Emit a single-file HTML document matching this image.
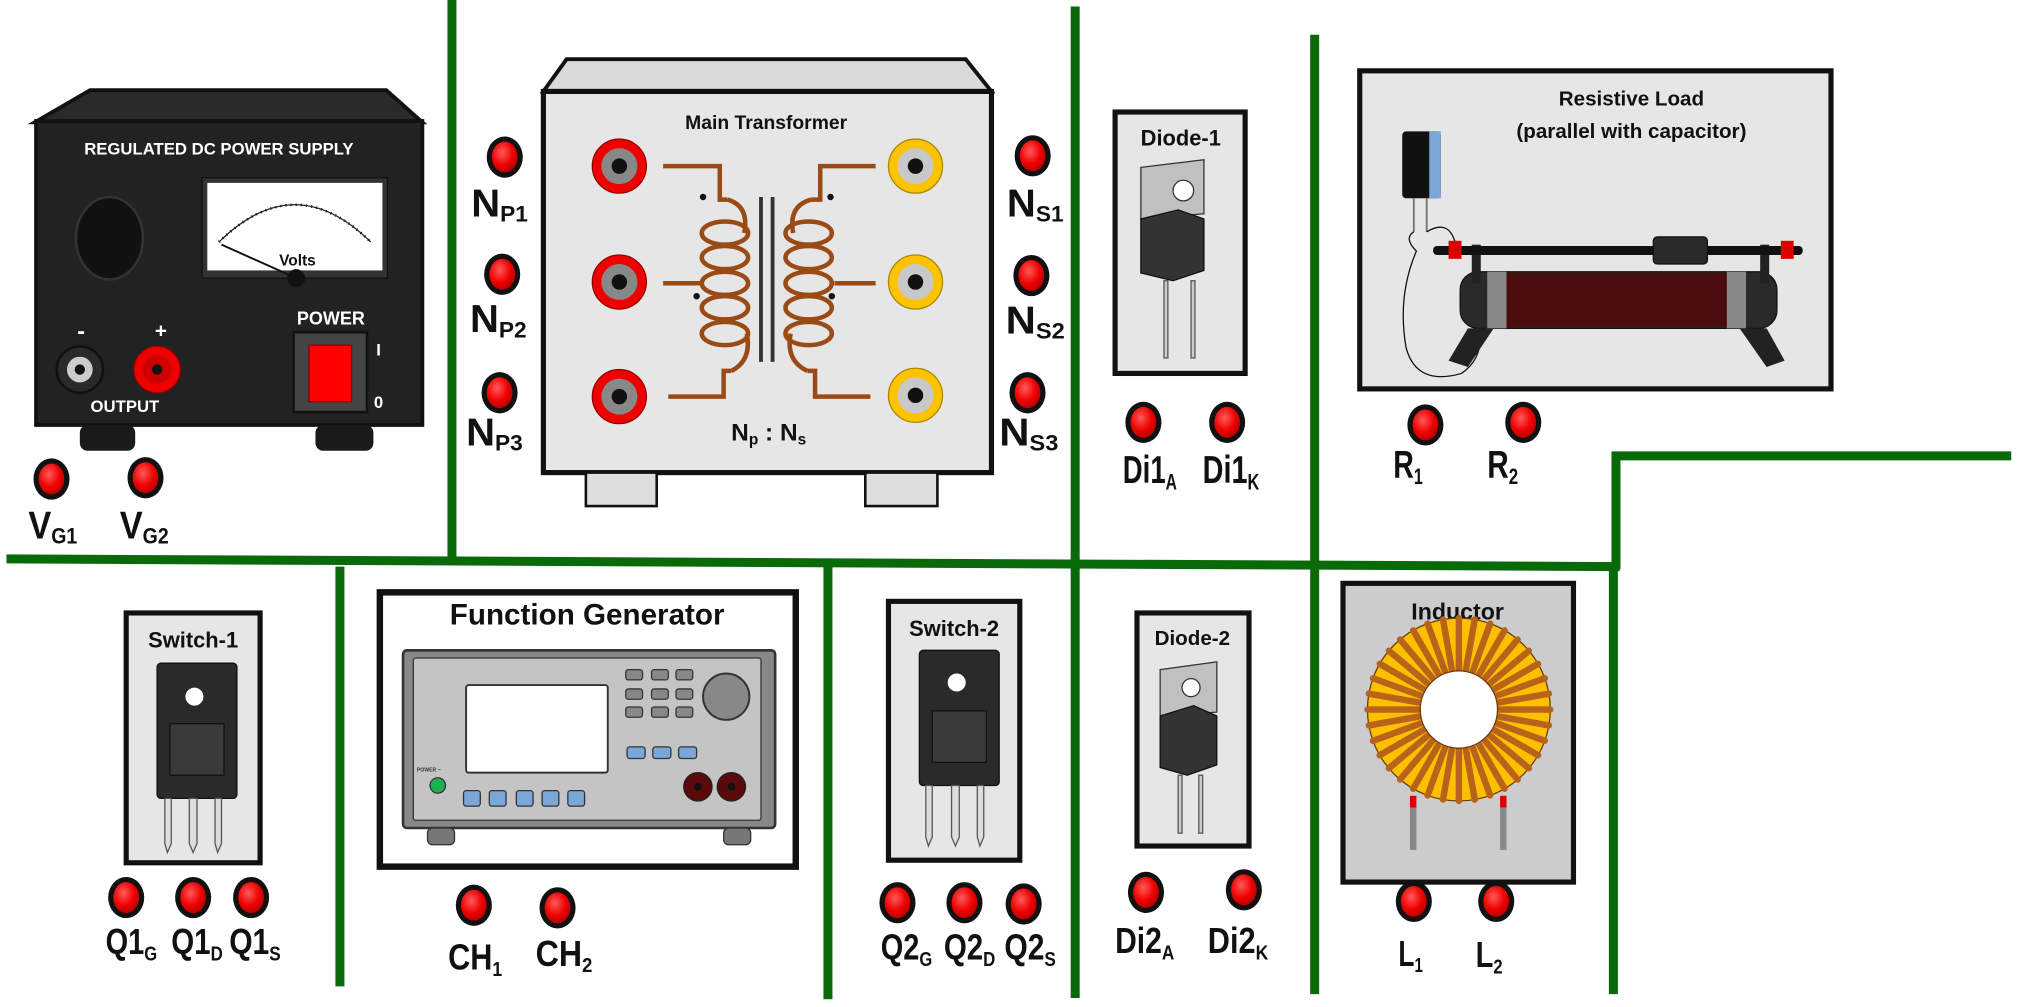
<!DOCTYPE html>
<html><head><meta charset="utf-8"><style>
html,body{margin:0;padding:0;background:#fff;width:2019px;height:1007px;overflow:hidden}
svg{display:block}
text{font-family:"Liberation Sans Narrow","Liberation Sans",sans-serif;font-weight:bold}
</style></head><body>
<svg width="2019" height="1007" viewBox="0 0 1568 782" preserveAspectRatio="none" xmlns="http://www.w3.org/2000/svg">
<defs>
<radialGradient id="rd" cx="0.4" cy="0.35" r="0.7"><stop offset="0" stop-color="#ff5a5a"/><stop offset="0.6" stop-color="#ee0000"/><stop offset="1" stop-color="#b00000"/></radialGradient>
<g id="dot"><ellipse cx="0" cy="0" rx="14" ry="16" fill="#111"/><ellipse cx="0" cy="0" rx="10" ry="12" fill="url(#rd)"/></g>
<g id="rterm"><circle r="21" fill="#e00" stroke="#900" stroke-width="1"/><circle r="14" fill="#888"/><circle r="6" fill="#111"/></g>
<g id="yterm"><circle r="21" fill="#fdc300" stroke="#a80" stroke-width="1"/><circle r="14" fill="#c8c8c8"/><circle r="6" fill="#111"/></g>
</defs>

<g stroke="#0a6a0a" stroke-width="7" fill="none">
<line x1="351" y1="0" x2="351" y2="434"/>
<line x1="835" y1="5" x2="835" y2="775"/>
<line x1="1021" y1="27" x2="1021" y2="772"/>
<line x1="5" y1="434" x2="1258" y2="440"/>
<polyline points="1255,442 1255,354 1562,354"/>
<line x1="264" y1="440" x2="264" y2="766"/>
<line x1="643" y1="438" x2="643" y2="776"/>
<line x1="1253" y1="440" x2="1253" y2="772"/>
</g>

<!-- DC power supply -->
<polygon points="70,70 300,70 328,95 27,95" fill="#2a2a2a" stroke="#111" stroke-width="3"/>
<rect x="28" y="94" width="300" height="236" fill="#222" stroke="#111" stroke-width="3"/>
<rect x="62" y="330" width="43" height="20" rx="6" fill="#1a1a1a"/>
<rect x="245" y="330" width="45" height="20" rx="6" fill="#1a1a1a"/>
<text x="170" y="120" font-size="13" fill="#fff" text-anchor="middle">REGULATED DC POWER SUPPLY</text>
<ellipse cx="85" cy="185" rx="26" ry="32" fill="#111" stroke="#333" stroke-width="2"/>
<rect x="157" y="138" width="144" height="78" fill="#333" stroke="#111"/>
<rect x="161" y="142" width="136" height="68" fill="#fff"/>
<path d="M170 188 Q229 130 288 188" fill="none" stroke="#222" stroke-width="2" stroke-dasharray="1 3"/>
<path d="M170 188 Q229 130 288 188" fill="none" stroke="#222" stroke-width="1"/>
<line x1="172" y1="190" x2="228" y2="215" stroke="#111" stroke-width="1.5"/>
<circle cx="230" cy="216" r="7" fill="#111"/>
<text x="231" y="206" font-size="12" fill="#111" text-anchor="middle" font-weight="normal">Volts</text>
<text x="63" y="263" font-size="18" fill="#fff" text-anchor="middle">-</text>
<text x="125" y="262" font-size="16" fill="#fff" text-anchor="middle">+</text>
<circle cx="62" cy="287" r="18" fill="#2a2a2a" stroke="#111" stroke-width="2"/><circle cx="62" cy="287" r="10" fill="#ccc"/><circle cx="62" cy="287" r="4" fill="#111"/>
<circle cx="122" cy="287" r="18" fill="#e00" stroke="#900"/><circle cx="122" cy="287" r="11" fill="#c00"/><circle cx="122" cy="287" r="4" fill="#111"/>
<text x="97" y="320" font-size="13" fill="#fff" text-anchor="middle">OUTPUT</text>
<text x="257" y="252" font-size="14" fill="#fff" text-anchor="middle">POWER</text>
<rect x="228" y="258" width="57" height="62" fill="#444" stroke="#111" stroke-width="2"/>
<rect x="240" y="268" width="33" height="44" fill="#f00" stroke="#800"/>
<text x="294" y="276" font-size="13" fill="#fff" text-anchor="middle">I</text>
<text x="294" y="317" font-size="13" fill="#fff" text-anchor="middle">0</text>
<use href="#dot" x="40" y="372"/><use href="#dot" x="113" y="371"/>
<text x="22" y="418" font-size="30" fill="#111" textLength="38" lengthAdjust="spacingAndGlyphs">V<tspan font-size="17" dy="4">G1</tspan></text>
<text x="93" y="418" font-size="30" fill="#111" textLength="38" lengthAdjust="spacingAndGlyphs">V<tspan font-size="17" dy="4">G2</tspan></text>

<!-- Transformer -->
<polygon points="440,46 750,46 770,71 422,71" fill="#d9d9d9" stroke="#111" stroke-width="3"/>
<rect x="422" y="71" width="348" height="296" fill="#e6e6e6" stroke="#111" stroke-width="4"/>
<rect x="455" y="367" width="55" height="26" fill="#ddd" stroke="#111" stroke-width="2"/>
<rect x="672" y="367" width="56" height="26" fill="#ddd" stroke="#111" stroke-width="2"/>
<text x="595" y="100" font-size="15" fill="#111" text-anchor="middle">Main Transformer</text>
<use href="#rterm" x="481" y="129"/><use href="#rterm" x="481" y="219"/><use href="#rterm" x="481" y="308"/>
<use href="#yterm" x="711" y="129"/><use href="#yterm" x="711" y="219"/><use href="#yterm" x="711" y="307"/>
<g fill="none" stroke="#9a4a14" stroke-width="3.5">
<polyline points="515,129 559,129 559,155 565,155"/>
<path d="M565 155 Q582 160 578 181"/>
<polyline points="515,220 545,220"/>
<polyline points="519,308 562,308 562,288 568,288"/>
<path d="M568 288 Q584 280 580 259"/>
<ellipse cx="563" cy="181" rx="18" ry="9"/><ellipse cx="563" cy="200" rx="18" ry="9"/><ellipse cx="563" cy="220" rx="18" ry="9"/><ellipse cx="563" cy="239" rx="18" ry="9"/><ellipse cx="563" cy="259" rx="18" ry="9"/>
<polyline points="680,129 637,129 637,155 630,155"/>
<path d="M630 155 Q612 160 616 181"/>
<polyline points="648,220 680,220"/>
<polyline points="676,308 633,308 633,288 627,288"/>
<path d="M627 288 Q610 280 614 259"/>
<ellipse cx="628" cy="181" rx="18" ry="9"/><ellipse cx="628" cy="200" rx="18" ry="9"/><ellipse cx="628" cy="220" rx="18" ry="9"/><ellipse cx="628" cy="239" rx="18" ry="9"/><ellipse cx="628" cy="259" rx="18" ry="9"/>
</g>
<line x1="591" y1="153" x2="591" y2="281" stroke="#333" stroke-width="3"/>
<line x1="600" y1="153" x2="600" y2="281" stroke="#333" stroke-width="3"/>
<circle cx="546" cy="153" r="2.5" fill="#111"/><circle cx="645" cy="153" r="2.5" fill="#111"/>
<circle cx="541" cy="230" r="2.5" fill="#111"/><circle cx="646" cy="230" r="2.5" fill="#111"/>
<text x="597" y="342" font-size="19" fill="#111" text-anchor="middle">N<tspan font-size="12" dy="3">p</tspan><tspan dy="-3"> : N</tspan><tspan font-size="12" dy="3">s</tspan></text>
<use href="#dot" x="392" y="122"/><use href="#dot" x="390" y="213"/><use href="#dot" x="388" y="305"/>
<text x="366" y="168" font-size="30" fill="#111" textLength="44" lengthAdjust="spacingAndGlyphs">N<tspan font-size="17" dy="4">P1</tspan></text>
<text x="365" y="258" font-size="30" fill="#111" textLength="44" lengthAdjust="spacingAndGlyphs">N<tspan font-size="17" dy="4">P2</tspan></text>
<text x="362" y="346" font-size="30" fill="#111" textLength="44" lengthAdjust="spacingAndGlyphs">N<tspan font-size="17" dy="4">P3</tspan></text>
<use href="#dot" x="802" y="121"/><use href="#dot" x="801" y="214"/><use href="#dot" x="798" y="305"/>
<text x="782" y="168" font-size="30" fill="#111" textLength="44" lengthAdjust="spacingAndGlyphs">N<tspan font-size="17" dy="4">S1</tspan></text>
<text x="781" y="259" font-size="30" fill="#111" textLength="46" lengthAdjust="spacingAndGlyphs">N<tspan font-size="17" dy="4">S2</tspan></text>
<text x="776" y="346" font-size="30" fill="#111" textLength="46" lengthAdjust="spacingAndGlyphs">N<tspan font-size="17" dy="4">S3</tspan></text>

<!-- Diode-1 -->
<rect x="866" y="87" width="101" height="203" fill="#e6e6e6" stroke="#111" stroke-width="4"/>
<text x="917" y="113" font-size="17" fill="#111" text-anchor="middle">Diode-1</text>
<polygon points="886,130 935,124 935,166 886,170" fill="#c0c0c0" stroke="#333"/>
<circle cx="919" cy="148" r="8" fill="#fff" stroke="#333"/>
<polygon points="886,170 915,163 935,170 935,210 911,218 886,212" fill="#333" stroke="#111"/>
<rect x="904" y="218" width="3" height="60" fill="#ccc" stroke="#555"/>
<rect x="925" y="218" width="3" height="60" fill="#ccc" stroke="#555"/>
<use href="#dot" x="888" y="328"/><use href="#dot" x="953" y="328"/>
<text x="872" y="375" font-size="30" fill="#111" textLength="42" lengthAdjust="spacingAndGlyphs">Di1<tspan font-size="17" dy="5">A</tspan></text>
<text x="934" y="375" font-size="30" fill="#111" textLength="44" lengthAdjust="spacingAndGlyphs">Di1<tspan font-size="17" dy="5">K</tspan></text>

<!-- Resistive Load -->
<rect x="1056" y="55" width="366" height="247" fill="#e6e6e6" stroke="#111" stroke-width="4"/>
<text x="1267" y="82" font-size="16" fill="#111" text-anchor="middle">Resistive Load</text>
<text x="1267" y="107" font-size="16" fill="#111" text-anchor="middle">(parallel with capacitor)</text>
<rect x="1089" y="102" width="30" height="52" rx="3" fill="#111"/>
<rect x="1110" y="102" width="9" height="52" fill="#7aa6d8"/>
<line x1="1098" y1="154" x2="1098" y2="180" stroke="#777" stroke-width="1.5"/>
<line x1="1108" y1="154" x2="1108" y2="180" stroke="#777" stroke-width="1.5"/>
<path d="M1098 180 Q1090 185 1100 195 Q1085 230 1092 270 Q1100 300 1135 290 Q1150 280 1150 260 M1108 180 Q1125 170 1130 188" fill="none" stroke="#111" stroke-width="1"/>
<rect x="1134" y="211" width="246" height="44" rx="14" fill="#2a2a2a" stroke="#111"/>
<rect x="1155" y="211" width="15" height="44" fill="#888"/>
<rect x="1341" y="211" width="15" height="44" fill="#888"/>
<rect x="1170" y="212" width="171" height="42" fill="#4a0c0c"/>
<rect x="1143" y="190" width="7" height="30" fill="#222"/>
<rect x="1367" y="190" width="7" height="30" fill="#222"/>
<rect x="1113" y="191" width="287" height="7" rx="3" fill="#111"/>
<rect x="1125" y="187" width="10" height="14" fill="#d00"/>
<rect x="1383" y="187" width="10" height="14" fill="#d00"/>
<rect x="1284" y="184" width="42" height="21" rx="3" fill="#2a2a2a" stroke="#111"/>
<polygon points="1140,255 1160,255 1140,285 1125,280" fill="#222"/>
<polygon points="1351,255 1372,255 1386,280 1372,285" fill="#222"/>
<use href="#dot" x="1107" y="330"/><use href="#dot" x="1183" y="328"/>
<text x="1082" y="371" font-size="30" fill="#111" textLength="23" lengthAdjust="spacingAndGlyphs">R<tspan font-size="17" dy="5">1</tspan></text>
<text x="1155" y="371" font-size="30" fill="#111" textLength="24" lengthAdjust="spacingAndGlyphs">R<tspan font-size="17" dy="5">2</tspan></text>

<!-- Switch-1 -->
<rect x="98" y="476" width="104" height="194" fill="#e6e6e6" stroke="#111" stroke-width="4"/>
<text x="150" y="503" font-size="17" fill="#111" text-anchor="middle">Switch-1</text>
<rect x="122" y="515" width="62" height="105" rx="3" fill="#2a2a2a" stroke="#111"/>
<circle cx="151" cy="541" r="7" fill="#fff"/>
<rect x="132" y="562" width="42" height="40" fill="#3a3a3a" stroke="#111"/>
<g stroke="#555" stroke-width="1" fill="#ddd"><polygon points="128,620 133,620 133,655 130,662 128,655"/><polygon points="147,620 153,620 153,655 150,662 147,655"/><polygon points="167,620 172,620 172,655 169,662 167,655"/></g>
<use href="#dot" x="98" y="697"/><use href="#dot" x="150" y="697"/><use href="#dot" x="195" y="697"/>
<text x="82" y="741" font-size="28" fill="#111" textLength="40" lengthAdjust="spacingAndGlyphs">Q1<tspan font-size="16" dy="5">G</tspan></text>
<text x="133" y="741" font-size="28" fill="#111" textLength="40" lengthAdjust="spacingAndGlyphs">Q1<tspan font-size="16" dy="5">D</tspan></text>
<text x="178" y="741" font-size="28" fill="#111" textLength="40" lengthAdjust="spacingAndGlyphs">Q1<tspan font-size="16" dy="5">S</tspan></text>

<!-- Function Generator -->
<rect x="295" y="460" width="323" height="213" fill="#fff" stroke="#111" stroke-width="5"/>
<text x="456" y="485" font-size="23" fill="#111" text-anchor="middle">Function Generator</text>
<rect x="313" y="505" width="289" height="138" rx="3" fill="#888" stroke="#333" stroke-width="2"/>
<rect x="321" y="511" width="270" height="126" rx="2" fill="#c4c4c4" stroke="#333"/>
<rect x="332" y="643" width="21" height="13" rx="4" fill="#777" stroke="#333"/>
<rect x="562" y="643" width="21" height="13" rx="4" fill="#777" stroke="#333"/>
<rect x="362" y="532" width="110" height="68" rx="2" fill="#fff" stroke="#333" stroke-width="1.5"/>
<g fill="#888" stroke="#333" stroke-width="1">
<rect x="486" y="520" width="13" height="8" rx="2"/><rect x="506" y="520" width="13" height="8" rx="2"/><rect x="525" y="520" width="13" height="8" rx="2"/>
<rect x="486" y="535" width="13" height="8" rx="2"/><rect x="506" y="535" width="13" height="8" rx="2"/><rect x="525" y="535" width="13" height="8" rx="2"/>
<rect x="486" y="549" width="13" height="8" rx="2"/><rect x="506" y="549" width="13" height="8" rx="2"/><rect x="525" y="549" width="13" height="8" rx="2"/>
</g>
<circle cx="564" cy="541" r="18" fill="#888" stroke="#333" stroke-width="1.5"/>
<g fill="#7aa6d8" stroke="#333" stroke-width="1">
<rect x="487" y="580" width="14" height="9" rx="2"/><rect x="507" y="580" width="14" height="9" rx="2"/><rect x="527" y="580" width="14" height="9" rx="2"/>
<rect x="360" y="614" width="13" height="12" rx="2"/><rect x="380" y="614" width="13" height="12" rx="2"/><rect x="401" y="614" width="13" height="12" rx="2"/><rect x="421" y="614" width="13" height="12" rx="2"/><rect x="441" y="614" width="13" height="12" rx="2"/>
</g>
<circle cx="542" cy="611" r="11" fill="#5a0a0a" stroke="#222"/><circle cx="542" cy="611" r="3" fill="#111"/>
<circle cx="568" cy="611" r="11" fill="#5a0a0a" stroke="#222"/><circle cx="568" cy="611" r="3" fill="#111"/>
<circle cx="340" cy="610" r="6" fill="#1db050" stroke="#333"/>
<text x="333" y="599" font-size="4" fill="#333" text-anchor="middle">POWER ~</text>
<use href="#dot" x="368" y="703"/><use href="#dot" x="433" y="705"/>
<text x="348" y="753" font-size="28" fill="#111" textLength="42" lengthAdjust="spacingAndGlyphs">CH<tspan font-size="16" dy="5">1</tspan></text>
<text x="416" y="750" font-size="28" fill="#111" textLength="44" lengthAdjust="spacingAndGlyphs">CH<tspan font-size="16" dy="5">2</tspan></text>

<!-- Switch-2 -->
<rect x="690" y="467" width="102" height="201" fill="#e6e6e6" stroke="#111" stroke-width="4"/>
<text x="741" y="494" font-size="17" fill="#111" text-anchor="middle">Switch-2</text>
<rect x="714" y="505" width="62" height="105" rx="3" fill="#2a2a2a" stroke="#111"/>
<circle cx="743" cy="530" r="7" fill="#fff"/>
<rect x="724" y="552" width="42" height="40" fill="#3a3a3a" stroke="#111"/>
<g stroke="#555" stroke-width="1" fill="#ddd"><polygon points="719,610 724,610 724,650 721,657 719,650"/><polygon points="739,610 745,610 745,650 742,657 739,650"/><polygon points="759,610 764,610 764,650 761,657 759,650"/></g>
<use href="#dot" x="697" y="701"/><use href="#dot" x="749" y="701"/><use href="#dot" x="795" y="702"/>
<text x="684" y="745" font-size="28" fill="#111" textLength="40" lengthAdjust="spacingAndGlyphs">Q2<tspan font-size="16" dy="5">G</tspan></text>
<text x="733" y="745" font-size="28" fill="#111" textLength="40" lengthAdjust="spacingAndGlyphs">Q2<tspan font-size="16" dy="5">D</tspan></text>
<text x="780" y="745" font-size="28" fill="#111" textLength="40" lengthAdjust="spacingAndGlyphs">Q2<tspan font-size="16" dy="5">S</tspan></text>

<!-- Diode-2 -->
<rect x="883" y="476" width="87" height="181" fill="#e6e6e6" stroke="#111" stroke-width="4"/>
<text x="926" y="501" font-size="16" fill="#111" text-anchor="middle">Diode-2</text>
<polygon points="901,520 945,514 945,553 901,556" fill="#c0c0c0" stroke="#333"/>
<circle cx="925" cy="534" r="7" fill="#fff" stroke="#333"/>
<polygon points="901,556 927,548 945,556 945,594 922,602 901,596" fill="#333" stroke="#111"/>
<rect x="915" y="602" width="3" height="45" fill="#ccc" stroke="#555"/>
<rect x="931" y="602" width="3" height="45" fill="#ccc" stroke="#555"/>
<use href="#dot" x="890" y="693"/><use href="#dot" x="966" y="691"/>
<text x="866" y="740" font-size="28" fill="#111" textLength="46" lengthAdjust="spacingAndGlyphs">Di2<tspan font-size="16" dy="5">A</tspan></text>
<text x="938" y="740" font-size="28" fill="#111" textLength="47" lengthAdjust="spacingAndGlyphs">Di2<tspan font-size="16" dy="5">K</tspan></text>

<!-- Inductor -->
<rect x="1043" y="453" width="179" height="232" fill="#cccccc" stroke="#111" stroke-width="4"/>
<text x="1132" y="481" font-size="18" fill="#111" text-anchor="middle">Inductor</text>
<rect x="1095" y="625" width="5" height="35" fill="#888"/>
<rect x="1165" y="625" width="5" height="35" fill="#888"/>
<rect x="1095" y="618" width="5" height="9" fill="#d00"/>
<rect x="1165" y="618" width="5" height="9" fill="#d00"/>
<circle cx="1133" cy="551" r="71" fill="#fdc000" stroke="#6a3a0a" stroke-width="1"/>
<g stroke="#b8621a" stroke-width="5" stroke-linecap="round" id="wind"></g>
<circle cx="1133" cy="551" r="30" fill="#fff" stroke="#6a3a0a" stroke-width="1"/>
<use href="#dot" x="1098" y="700"/><use href="#dot" x="1162" y="700"/>
<text x="1086" y="750" font-size="28" fill="#111" textLength="19" lengthAdjust="spacingAndGlyphs">L<tspan font-size="16" dy="5">1</tspan></text>
<text x="1146" y="751" font-size="28" fill="#111" textLength="21" lengthAdjust="spacingAndGlyphs">L<tspan font-size="16" dy="5">2</tspan></text>
</svg>
<script>
var g=document.getElementById('wind');var s='';
for(var i=0;i<36;i++){var a=i*2*Math.PI/36;var c=Math.cos(a),sn=Math.sin(a);
s+='<line x1="'+(1133+31*c)+'" y1="'+(551+31*sn)+'" x2="'+(1133+71*c)+'" y2="'+(551+71*sn)+'"/>';}
g.innerHTML=s;
</script>
</body></html>
